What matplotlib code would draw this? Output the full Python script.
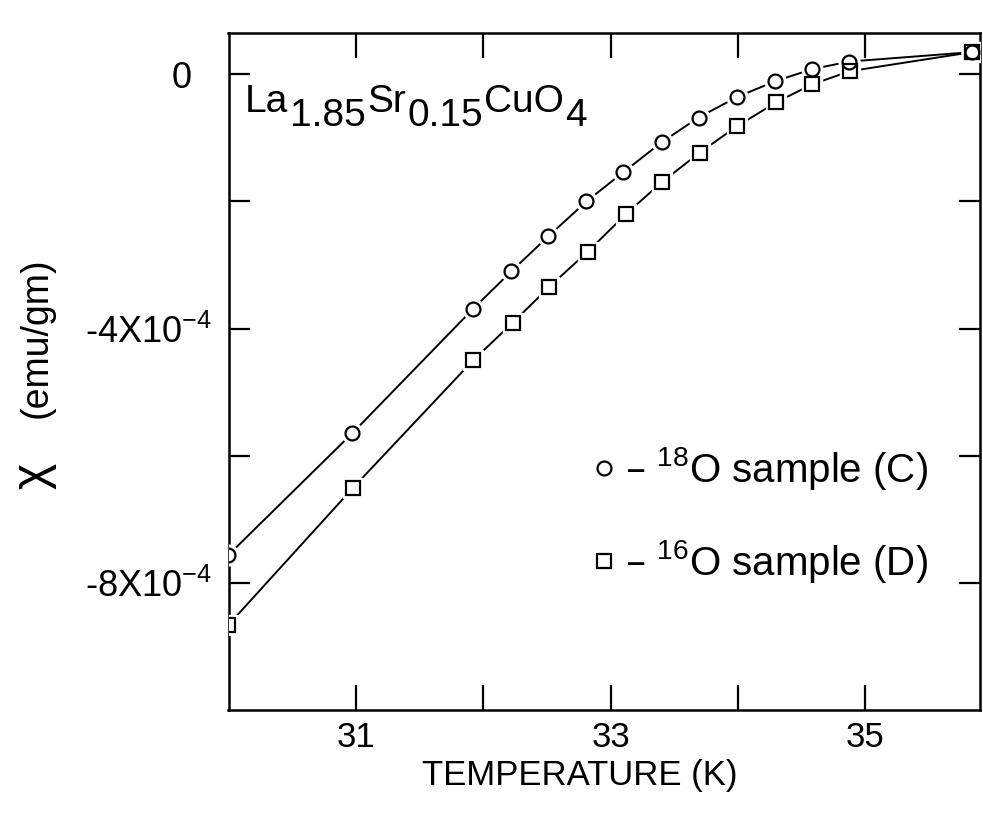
import matplotlib
matplotlib.use("Agg")
import matplotlib.pyplot as plt
from matplotlib.lines import Line2D

plt.rcParams['font.family'] = ['Liberation Sans', 'DejaVu Sans']
plt.rcParams['mathtext.default'] = 'regular'

# temperature (K) and susceptibility (units of 1e-4 emu/gm)
temp_18 = [30.0, 30.97, 31.92, 32.22, 32.51, 32.81, 33.10, 33.40, 33.69, 33.99, 34.29, 34.58, 34.87, 35.84]
chi_18 = [-7.56, -5.65, -3.69, -3.10, -2.55, -2.00, -1.54, -1.07, -0.68, -0.36, -0.11, 0.08, 0.20, 0.35]

temp_16 = [30.0, 30.98, 31.92, 32.23, 32.52, 32.82, 33.12, 33.40, 33.70, 33.99, 34.30, 34.58, 34.88, 35.84]
chi_16 = [-8.66, -6.50, -4.50, -3.91, -3.34, -2.79, -2.20, -1.70, -1.23, -0.82, -0.44, -0.16, 0.05, 0.35]

x_ticks = [31, 32, 33, 34, 35]
x_labels = ['31', '', '33', '', '35']
y_ticks = [0, -2, -4, -6, -8]
y_labels = ['0  ', '', '-4X10$^{-4}$', '', '-8X10$^{-4}$']

# compound name, (piece, 1 = subscript)
formula = [('La', 0), ('1.85', 1), ('Sr', 0), ('0.15', 1), ('CuO', 0), ('4', 1)]

fig = plt.figure(figsize=(9.83, 8.19), dpi=100)
ax = fig.add_axes([228.5 / 983, 109 / 819, 751.5 / 983, 677 / 819])

for t, c, m in [(temp_18, chi_18, 'o'), (temp_16, chi_16, 's')]:
    ax.plot(t, c, '-', color='black', lw=1.4, zorder=2)
    # white halo so the line stops short of each marker
    ax.plot(t, c, m, ms=15, mfc='white', mec='white', ls='none', zorder=3)
    ax.plot(t, c, m, ms=10, mfc='none', mec='black', mew=1.6, ls='none', zorder=4)

ax.set_xlim(30, 35.9)
ax.set_ylim(-10, 0.65)

ax.set_xticks(x_ticks)
ax.set_xticklabels(x_labels)
ax.set_yticks(y_ticks)
ax.set_yticklabels(y_labels)
ax.tick_params(axis='x', direction='in', length=18, width=1.6, top=True,
               labelsize=25, pad=8)
ax.tick_params(axis='y', direction='in', length=15, width=1.6, right=True,
               labelsize=26, pad=12)
for sp in ax.spines.values():
    sp.set_linewidth(1.8)

ax.set_xlabel('TEMPERATURE (K)', fontsize=25)
ax.xaxis.set_label_coords(0.468, -0.072)

# y label: big chi below the unit text
ax.set_ylabel('(emu/gm)', fontsize=27)
ax.yaxis.set_label_coords(-0.232, 0.55)
ax.annotate(r'$\chi$', xy=(0.5, 0), xycoords=ax.yaxis.label,
            xytext=(0, -32), textcoords='offset points',
            fontsize=36, rotation=90, ha='center', va='top')

# formula with full-size subscripts, each piece hung off the previous one
prev = ax.text(0.022, 0.872, formula[0][0], transform=ax.transAxes,
               fontsize=28, ha='left', va='bottom')
level = formula[0][1]
for piece, sub in formula[1:]:
    prev = ax.annotate(piece, xy=(1, 0), xycoords=prev,
                       xytext=(1, (level - sub) * 10), textcoords='offset points',
                       fontsize=28, ha='left', va='bottom')
    level = sub

handles = [
    Line2D([], [], marker='o', ls='none', ms=10, mfc='none', mec='black', mew=1.6),
    Line2D([], [], marker='s', ls='none', ms=10, mfc='none', mec='black', mew=1.6),
]
labels = ['\u2013 $^{18}$O sample (C)', '\u2013 $^{16}$O sample (D)']
ax.legend(handles, labels, loc='center left', bbox_to_anchor=(0.46, 0.288),
          frameon=False, fontsize=29, handlelength=0.5, handletextpad=0.25,
          labelspacing=1.15, borderpad=0)

fig.savefig('out.png', dpi=100)
